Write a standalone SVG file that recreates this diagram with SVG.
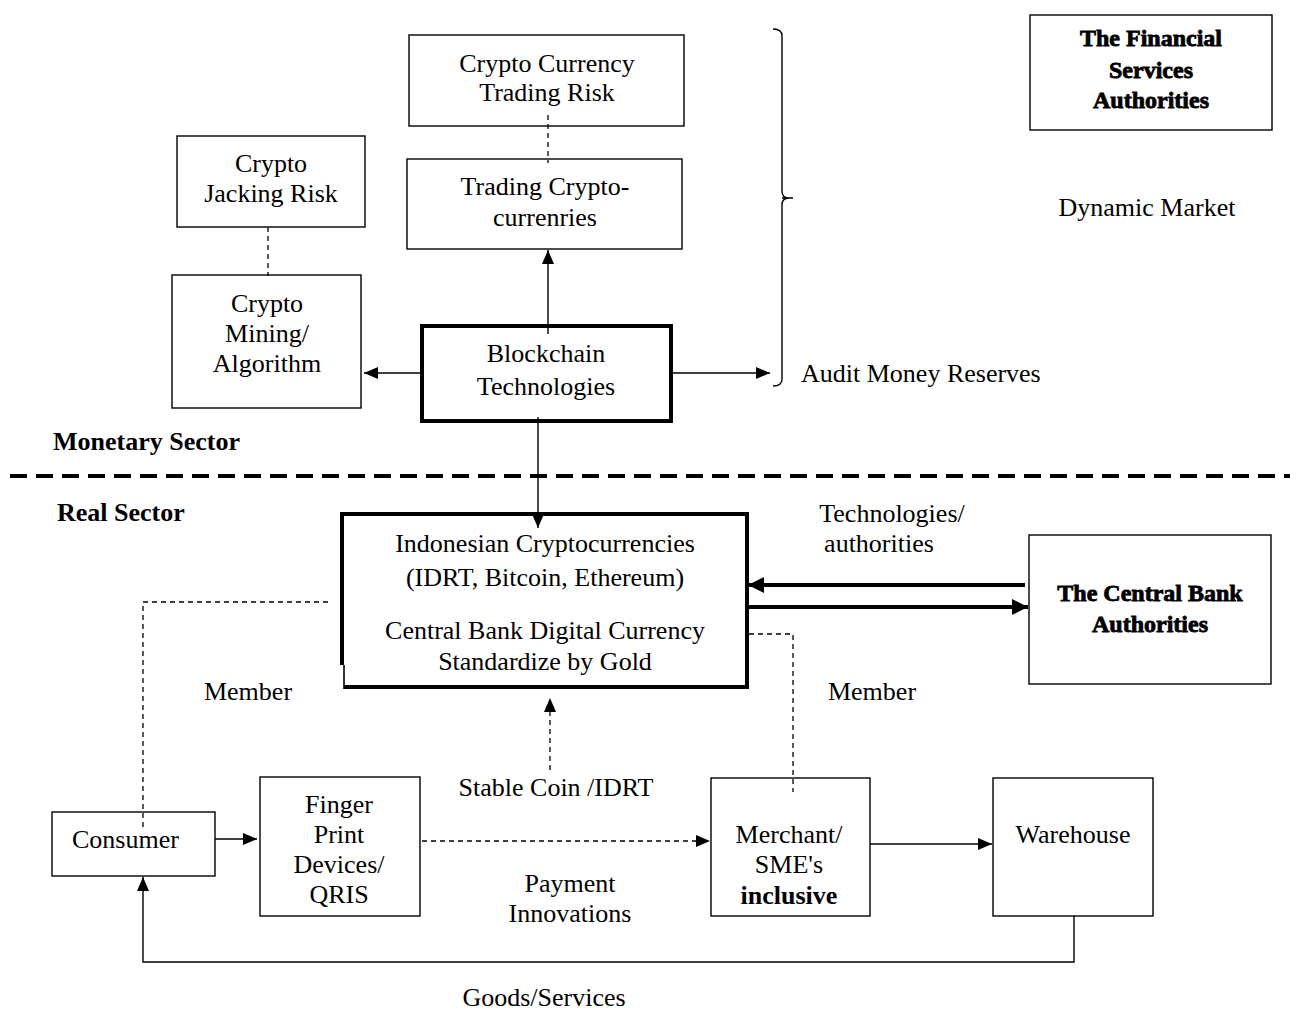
<svg xmlns="http://www.w3.org/2000/svg" width="1299" height="1011" viewBox="0 0 1299 1011">
<style>
  text { font-family: "Liberation Serif", "Times New Roman", serif; font-size: 26px; fill: #000; }
  .c { text-anchor: middle; }
  .b { font-weight: bold; }
  .t { font-weight: bold; font-size: 24px; stroke: #000; stroke-width: 0.8px; text-anchor: middle; }
  .box { fill: #fff; stroke: #000; stroke-width: 1.4; }
  .thick { fill: #fff; stroke: #000; stroke-width: 4; }
  .ln { fill: none; stroke: #000; stroke-width: 1.4; }
  .dash { fill: none; stroke: #000; stroke-width: 1.3; stroke-dasharray: 5 4; }
  .big { fill: none; stroke: #000; stroke-width: 4; }
</style>
<defs>
  <marker id="ah" viewBox="0 0 14 12" refX="14" refY="6" markerWidth="14" markerHeight="12" orient="auto" markerUnits="userSpaceOnUse">
    <path d="M0,0 L14,6 L0,12 z" fill="#000"/>
  </marker>
  <marker id="ahb" viewBox="0 0 16 16" refX="16" refY="8" markerWidth="16" markerHeight="16" orient="auto" markerUnits="userSpaceOnUse">
    <path d="M0,0 L16,8 L0,16 z" fill="#000"/>
  </marker>
</defs>

<g id="fsa">
  <rect class="box" x="1030" y="15" width="242" height="115"/>
  <text class="t" x="1151" y="46">The Financial</text>
  <text class="t" x="1151" y="78">Services</text>
  <text class="t" x="1151" y="108">Authorities</text>
</g>

<g id="dynamic-market"><text class="c" x="1147" y="216">Dynamic Market</text></g>

<g id="bracket">
  <path class="ln" d="M773,29 Q782,29 782,36 V191 Q782,198 789,198 Q782,198 782,205 V379 Q782,386 773,386 M782,198 H793"/>
</g>

<g id="trading-risk">
  <rect class="box" x="409" y="35" width="275" height="91"/>
  <text class="c" x="547" y="72">Crypto Currency</text>
  <text class="c" x="547" y="101">Trading Risk</text>
</g>

<g id="trading">
  <rect class="box" x="407" y="159" width="275" height="90"/>
  <text class="c" x="545" y="195">Trading Crypto-</text>
  <text class="c" x="545" y="226">currenries</text>
</g>

<g id="jacking">
  <rect class="box" x="177" y="136" width="188" height="91"/>
  <text class="c" x="271" y="172">Crypto</text>
  <text class="c" x="271" y="202">Jacking Risk</text>
</g>

<g id="mining">
  <rect class="box" x="172" y="275" width="189" height="133"/>
  <text class="c" x="267" y="312">Crypto</text>
  <text class="c" x="267" y="342">Mining/</text>
  <text class="c" x="267" y="372">Algorithm</text>
</g>

<g id="blockchain">
  <rect class="thick" x="422" y="326" width="249" height="95"/>
  <text class="c" x="546" y="362">Blockchain</text>
  <text class="c" x="546" y="395">Technologies</text>
</g>

<g id="audit"><text x="801" y="382">Audit Money Reserves</text></g>

<g id="monetary"><text class="b" x="53" y="450">Monetary Sector</text></g>
<g id="real"><text class="b" x="57" y="521">Real Sector</text></g>

<g id="divider">
  <line x1="10" y1="476" x2="1290" y2="476" stroke="#000" stroke-width="4" stroke-dasharray="17 9"/>
</g>

<g id="indonesian">
  <path d="M342,514 H747 V687 H344" fill="#fff" stroke="#000" stroke-width="4"/>
  <path d="M342,512 V665" stroke="#000" stroke-width="4" fill="none"/>
  <path d="M344,665 V689" stroke="#000" stroke-width="1.6" fill="none"/>
  <text class="c" x="545" y="552">Indonesian Cryptocurrencies</text>
  <text class="c" x="545" y="586">(IDRT, Bitcoin, Ethereum)</text>
  <text class="c" x="545" y="639">Central Bank Digital Currency</text>
  <text class="c" x="545" y="670">Standardize by Gold</text>
</g>

<g id="tech-label">
  <text class="c" x="892" y="522">Technologies/</text>
  <text class="c" x="879" y="552">authorities</text>
</g>

<g id="central-bank">
  <rect class="box" x="1029" y="535" width="242" height="149"/>
  <text class="t" x="1150" y="601">The Central Bank</text>
  <text class="t" x="1150" y="632">Authorities</text>
</g>

<g id="member-left"><text class="c" x="248" y="700">Member</text></g>
<g id="member-right"><text class="c" x="872" y="700">Member</text></g>
<g id="stable-label"><text class="c" x="556" y="796">Stable Coin /IDRT</text></g>

<g id="consumer">
  <rect class="box" x="52" y="812" width="163" height="64"/>
  <text x="72" y="848">Consumer</text>
</g>

<g id="finger">
  <rect class="box" x="260" y="777" width="160" height="139"/>
  <text class="c" x="339" y="813">Finger</text>
  <text class="c" x="339" y="843">Print</text>
  <text class="c" x="339" y="873">Devices/</text>
  <text class="c" x="339" y="903">QRIS</text>
</g>

<g id="payment-label">
  <text class="c" x="570" y="892">Payment</text>
  <text class="c" x="570" y="922">Innovations</text>
</g>

<g id="merchant">
  <rect class="box" x="711" y="778" width="159" height="138"/>
  <text class="c" x="789" y="843">Merchant/</text>
  <text class="c" x="789" y="873">SME's</text>
  <text class="c b" x="789" y="904">inclusive</text>
</g>

<g id="warehouse">
  <rect class="box" x="993" y="778" width="160" height="138"/>
  <text class="c" x="1073" y="843">Warehouse</text>
</g>

<g id="goods-label"><text class="c" x="544" y="1006">Goods/Services</text></g>

<g id="connectors">
  <path class="dash" d="M548,115 V163"/>
  <path class="dash" d="M268,227 V276"/>
  <path class="ln" d="M548,334 V250" marker-end="url(#ah)"/>
  <path class="ln" d="M422,373 H364" marker-end="url(#ah)"/>
  <path class="ln" d="M671,373 H770" marker-end="url(#ah)"/>
  <path class="ln" d="M538,417 V528" marker-end="url(#ah)"/>
  <path class="big" d="M1025,585 H748" marker-end="url(#ahb)"/>
  <path class="big" d="M749,607 H1028" marker-end="url(#ahb)"/>
  <path class="dash" d="M749,634 H793 V792"/>
  <path class="dash" d="M328,602 H143 V830"/>
  <path class="dash" d="M550,770 V698" marker-end="url(#ah)"/>
  <path class="ln" d="M215,839 H257" marker-end="url(#ah)"/>
  <path class="dash" d="M422,841 H710" marker-end="url(#ah)"/>
  <path class="ln" d="M870,844 H992" marker-end="url(#ah)"/>
  <path class="ln" d="M1074,916 V962 H143 V877" marker-end="url(#ah)"/>
</g>
</svg>
